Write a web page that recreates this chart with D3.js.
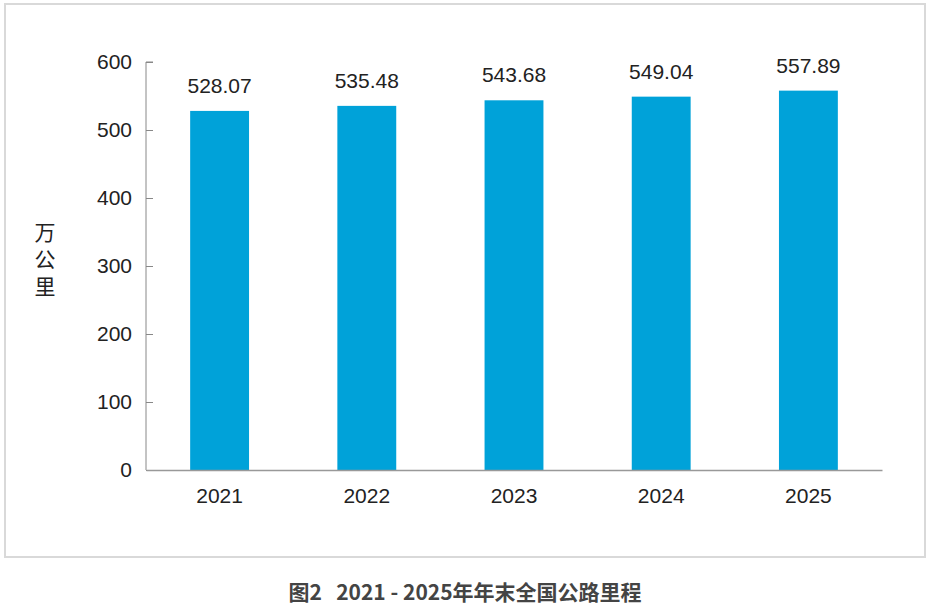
<!DOCTYPE html>
<html>
<head>
<meta charset="utf-8">
<script src="https://cdn.jsdelivr.net/npm/d3@7"></script>
<style>
  body { margin: 0; background: #fff; }
  svg { display: block; }
</style>
</head>
<body>
<div id="chart"></div>
<script>
(function() {
    'use strict';

    // Data
    const years = ['2021', '2022', '2023', '2024', '2025'];
    const mileage = [528.07, 535.48, 543.68, 549.04, 557.89];
    const yTicks = [0, 100, 200, 300, 400, 500, 600];

    const width = 931;
    const height = 608;
    const margin = { top: 62, right: 49, bottom: 138, left: 146 };
    const innerWidth = width - margin.left - margin.right;
    const innerHeight = height - margin.top - margin.bottom;
    const numFont = 'Liberation Sans, Arial, sans-serif';

    const svg = d3.select('#chart')
        .append('svg')
        .attr('width', width)
        .attr('height', height);

    // Outer frame
    svg.append('rect')
        .attr('x', 5).attr('y', 4)
        .attr('width', 920).attr('height', 553)
        .attr('fill', 'none')
        .attr('stroke', '#d9d9d9')
        .attr('stroke-width', 2);

    const g = svg.append('g')
        .attr('transform', `translate(${margin.left},${margin.top})`);

    const x = d3.scaleBand()
        .domain(years)
        .range([0, innerWidth])
        .paddingInner(0.6)
        .paddingOuter(0.3);

    const y = d3.scaleLinear()
        .domain([0, 600])
        .range([innerHeight, 0]);

    // Bars
    g.selectAll('rect.bar')
        .data(years)
        .join('rect')
        .attr('class', 'bar')
        .attr('x', d => x(d))
        .attr('y', (d, i) => y(mileage[i]))
        .attr('width', x.bandwidth())
        .attr('height', (d, i) => innerHeight - y(mileage[i]))
        .attr('fill', '#00a2d9');

    // Value labels
    g.selectAll('text.val')
        .data(years)
        .join('text')
        .attr('class', 'val')
        .attr('x', d => x(d) + x.bandwidth() / 2)
        .attr('y', (d, i) => y(mileage[i]) - 18)
        .attr('text-anchor', 'middle')
        .attr('font-family', numFont)
        .attr('font-size', '21px')
        .attr('fill', '#222')
        .text((d, i) => mileage[i].toFixed(2));

    // Y axis (ticks point inwards)
    const yAxis = g.append('g')
        .call(d3.axisRight(y).tickValues(yTicks).tickSize(7));
    yAxis.select('.domain').attr('stroke', '#888').attr('d', `M7,0H0V${innerHeight}`);
    yAxis.selectAll('.tick line').attr('stroke', '#888');
    yAxis.selectAll('.tick text')
        .attr('text-anchor', 'end')
        .attr('x', -14)
        .attr('font-family', numFont)
        .attr('font-size', '21px')
        .attr('fill', '#222');

    // X axis
    const xAxis = g.append('g')
        .attr('transform', `translate(0,${innerHeight})`)
        .call(d3.axisBottom(x).tickSize(0).tickPadding(18));
    xAxis.select('.domain').attr('stroke', '#999').attr('stroke-width', 1.5);
    xAxis.selectAll('.tick text')
        .attr('font-family', numFont)
        .attr('font-size', '21px')
        .attr('fill', '#222');

    // Y axis title, written vertically
    svg.append('text')
        .attr('x', 45)
        .attr('y', 222)
        .attr('writing-mode', 'vertical-rl')
        .attr('letter-spacing', '6px')
        .attr('font-family', 'Noto Sans CJK SC, sans-serif')
        .attr('font-size', '21px')
        .attr('fill', '#222')
        .text('万公里');

    // Caption
    svg.append('text')
        .attr('x', 465)
        .attr('y', 600)
        .attr('text-anchor', 'middle')
        .attr('font-family', 'Noto Sans CJK SC, sans-serif')
        .attr('font-weight', 'bold')
        .attr('font-size', '21px')
        .attr('fill', '#444')
        .text('图2\u00a0\u00a0\u00a02021\u00a0-\u00a02025年年末全国公路里程');
})();
</script>
</body>
</html>
